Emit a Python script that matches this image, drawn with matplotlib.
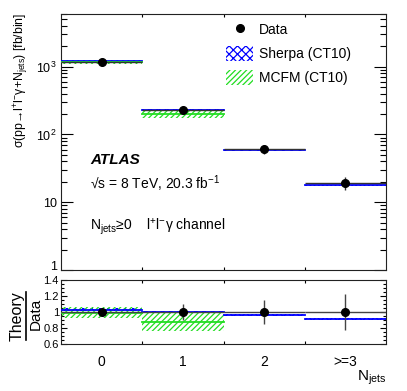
import numpy as np
import matplotlib
matplotlib.use("Agg")
import matplotlib.pyplot as plt
import matplotlib.transforms as mtrans
from matplotlib.lines import Line2D
from matplotlib.patches import Patch
from matplotlib.ticker import FixedLocator, LogLocator, NullFormatter, FixedFormatter

plt.rcParams['font.family'] = ['Liberation Sans', 'DejaVu Sans']
plt.rcParams['mathtext.fontset'] = 'custom'
plt.rcParams['mathtext.rm'] = 'Liberation Sans'
plt.rcParams['mathtext.it'] = 'Liberation Sans:italic'
plt.rcParams['mathtext.bf'] = 'Liberation Sans:bold'
plt.rcParams['hatch.linewidth'] = 0.9

# values
bins = ["0", "1", "2", ">=3"]
data = [1180, 231, 61, 19.5]
data_rel_err = [0.05, 0.10, 0.15, 0.22]
sherpa_ratio = [1.03, 1.00, 0.965, 0.915]
sherpa_rel_unc = [0.015, 0.015, 0.015, 0.015]
mcfm_ratio = [0.99, 0.87]
mcfm_lo = [0.925, 0.765]
mcfm_hi = [1.06, 0.995]

BLUE = "#0000ff"
GREEN = "#22dd22"
x = np.arange(len(bins))
data = np.array(data)
derr = data * np.array(data_rel_err)
sherpa = data * np.array(sherpa_ratio)

fig = plt.figure(figsize=(4.07, 3.91), dpi=100)
W, H = 407, 391
ax = fig.add_axes([61 / W, 1 - 270 / H, 325 / W, 256 / H])
rx = fig.add_axes([61 / W, 1 - 344 / H, 325 / W, 64 / H])


def band(a, i, lo, hi, mid, col, hatch):
    a.fill_between([i - 0.5, i + 0.5], [lo] * 2, [hi] * 2, facecolor="none",
                   edgecolor=col, hatch=hatch, linewidth=0, zorder=2)
    a.plot([i - 0.5, i + 0.5], [mid] * 2, color=col, lw=1.3, zorder=3)


for i in range(len(bins)):
    u = sherpa_rel_unc[i]
    band(ax, i, sherpa[i] * (1 - u), sherpa[i] * (1 + u), sherpa[i], BLUE, "xxxx")
    band(rx, i, sherpa_ratio[i] - u, sherpa_ratio[i] + u, sherpa_ratio[i], BLUE, "xxxx")
for i in range(len(mcfm_ratio)):
    band(ax, i, data[i] * mcfm_lo[i], data[i] * mcfm_hi[i], data[i] * mcfm_ratio[i], GREEN, "//////")
    band(rx, i, mcfm_lo[i], mcfm_hi[i], mcfm_ratio[i], GREEN, "//////")

ax.errorbar(x, data, yerr=derr, xerr=0.5, fmt="o", color="black", ecolor="#333333",
            elinewidth=1, ms=5.5, zorder=4)
rx.errorbar(x, np.ones(len(x)), yerr=data_rel_err, xerr=0.5, fmt="o", color="black",
            ecolor="#444444", elinewidth=1, ms=5.5, zorder=4)

# upper panel axes
ax.set_yscale("log")
ax.set_ylim(1, 6000)
ax.set_xlim(-0.5, 3.5)
ax.yaxis.set_major_locator(FixedLocator([1, 10, 100, 1000]))
ax.yaxis.set_major_formatter(FixedFormatter(["1", "10", "10$^{2}$", "10$^{3}$"]))
ax.yaxis.set_minor_locator(LogLocator(base=10, subs=np.arange(2, 10)))
ax.yaxis.set_minor_formatter(NullFormatter())
ax.set_xticks([0.5, 1.5, 2.5])
ax.set_xticklabels([])
ax.tick_params(axis="y", which="major", direction="in", length=8.5, width=0.8,
               left=True, right=True, labelsize=9, pad=3)
ax.tick_params(axis="y", which="minor", direction="in", length=4, width=0.8, left=True, right=True)
ax.tick_params(axis="x", which="both", direction="in", length=2.5, top=True, bottom=True)

# ratio panel axes
rx.set_ylim(0.6, 1.4)
rx.set_xlim(-0.5, 3.5)
rx.yaxis.set_major_locator(FixedLocator([0.6, 0.8, 1.0, 1.2, 1.4]))
rx.yaxis.set_major_formatter(FixedFormatter(["0.6", "0.8", "1", "1.2", "1.4"]))
rx.yaxis.set_minor_locator(FixedLocator(np.arange(0.6, 1.41, 0.05)))
rx.tick_params(axis="y", which="major", direction="in", length=4.5, width=0.8,
               left=True, right=True, labelsize=8, pad=1.5)
rx.tick_params(axis="y", which="minor", direction="in", length=2.2, width=0.8, left=True, right=True)
rx.set_xticks([0.5, 1.5, 2.5])
rx.set_xticklabels([])
rx.set_xticks(x, minor=True)
rx.set_xticklabels(bins, minor=True)
rx.tick_params(axis="x", which="major", direction="in", length=2.5, top=True, bottom=True)
rx.tick_params(axis="x", which="minor", length=0, labelsize=10, pad=8)

for a in (ax, rx):
    for s in a.spines.values():
        s.set_linewidth(0.8)
        s.set_color("#222222")

# nudge the "1" of the log axis up a bit so it clears the ratio panel labels
fig.canvas.draw()
lab1 = ax.yaxis.get_majorticklabels()[0]
lab1.set_transform(lab1.get_transform() + mtrans.ScaledTranslation(0, 3 / 72, fig.dpi_scale_trans))

# legend
handles = [Line2D([], [], marker="o", color="black", ls="none", ms=5.5),
           Patch(facecolor="none", edgecolor=BLUE, hatch="xxxx", linewidth=0),
           Patch(facecolor="none", edgecolor=GREEN, hatch="//////", linewidth=0)]
ax.legend(handles, ["Data", "Sherpa (CT10)", "MCFM (CT10)"], loc="upper left",
          bbox_to_anchor=(226 / W, 1 - 22 / H), bbox_transform=fig.transFigure,
          frameon=False, fontsize=10, handlelength=1.95, handleheight=1.3,
          labelspacing=0.62, handletextpad=0.45, borderpad=0, borderaxespad=0)

# annotations
fig.text(90 / W, 1 - 160 / H, "ATLAS", fontsize=11, fontweight="bold", style="italic", va="center")
fig.text(90 / W, 1 - 184 / H, "√s = 8 TeV, 20.3 fb$^{-1}$", fontsize=10, va="center")
fig.text(90 / W, 1 - 227 / H, "N$_{\\rm jets}$≥0    l$^{+}$l$^{-}$γ channel", fontsize=10, va="center")

fig.text(21 / W, 1 - 13 / H, "σ(pp→l$^{+}$l$^{-}$γ+N$_{\\rm jets}$) [fb/bin]",
         rotation=90, ha="center", va="top", fontsize=8.8)
fig.text(17 / W, 1 - 316 / H, "Theory", rotation=90, ha="center", va="center", fontsize=11.5)
fig.text(36 / W, 1 - 314 / H, "Data", rotation=90, ha="center", va="center", fontsize=11)
fig.add_artist(Line2D([26 / W, 26 / W], [1 - 292 / H, 1 - 340 / H], color="black", lw=1.2))
fig.text(386 / W, 1 - 378 / H, "N$_{\\rm jets}$", ha="right", va="center", fontsize=11)

fig.savefig("out.png", dpi=100)
